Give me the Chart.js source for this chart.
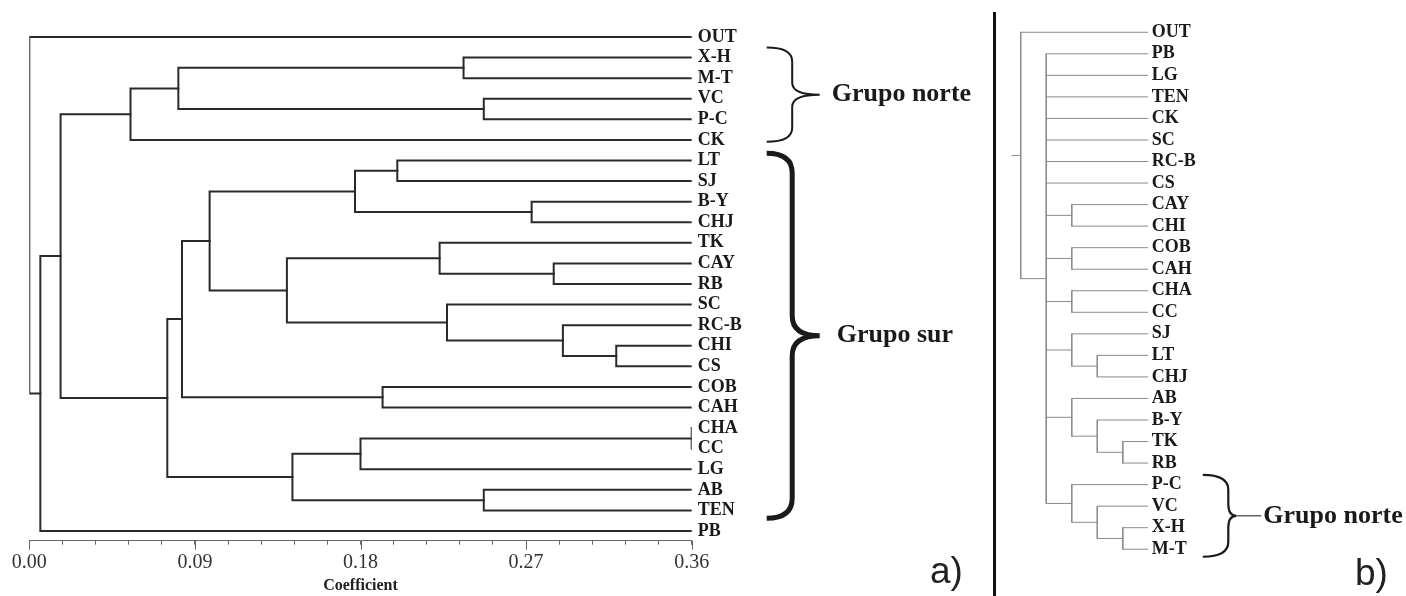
<!DOCTYPE html>
<html>
<head>
<meta charset="utf-8">
<script src="https://cdn.jsdelivr.net/npm/chart.js@4.4.1/dist/chart.umd.min.js"></script>
<style>
  html, body { margin: 0; padding: 0; background: #fff; }
  body { width: 1406px; height: 596px; position: relative; overflow: hidden; }
  #treeA { position: absolute; left: 0; top: 0; }
  #treeB { position: absolute; left: 990px; top: 0; }
  .divider { position: absolute; left: 993px; top: 12px; width: 3px; height: 584px; background: #111; }
  .panel { position: absolute; font: 37px 'Liberation Sans', Arial, sans-serif; line-height: 37px; color: #222; }
</style>
</head>
<body>
<canvas id="treeA" width="990" height="596"></canvas>
<div class="divider"></div>
<canvas id="treeB" width="416" height="596"></canvas>
<div class="panel" style="left:930px; top:552px">a)</div>
<div class="panel" style="left:1355px; top:554px">b)</div>
<script>
// ---- a) dendrogram, leaves from top to bottom
const leavesA = ['OUT', 'X-H', 'M-T', 'VC', 'P-C', 'CK', 'LT', 'SJ', 'B-Y', 'CHJ', 'TK', 'CAY', 'RB',
                 'SC', 'RC-B', 'CHI', 'CS', 'COB', 'CAH', 'CHA', 'CC', 'LG', 'AB', 'TEN', 'PB'];
// joins: [child, child, coefficient]; 'm3' = the 4th join in this list
const mergesA = [
  ['X-H', 'M-T', 0.236],   // m0
  ['VC', 'P-C', 0.247],    // m1
  ['m0', 'm1', 0.081],     // m2
  ['m2', 'CK', 0.055],     // m3
  ['LT', 'SJ', 0.200],     // m4
  ['B-Y', 'CHJ', 0.273],   // m5
  ['m4', 'm5', 0.177],     // m6
  ['CAY', 'RB', 0.285],    // m7
  ['TK', 'm7', 0.223],     // m8
  ['CHI', 'CS', 0.319],    // m9
  ['RC-B', 'm9', 0.290],   // m10
  ['SC', 'm10', 0.227],    // m11
  ['m8', 'm11', 0.140],    // m12
  ['m6', 'm12', 0.098],    // m13
  ['COB', 'CAH', 0.192],   // m14
  ['m13', 'm14', 0.083],   // m15
  ['CHA', 'CC', 0.360],    // m16
  ['m16', 'LG', 0.180],    // m17
  ['AB', 'TEN', 0.247],    // m18
  ['m17', 'm18', 0.143],   // m19
  ['m15', 'm19', 0.075],   // m20
  ['m3', 'm20', 0.017],    // m21
  ['m21', 'PB', 0.006],    // m22
  ['OUT', 'm22', 0.000]    // m23
];
const tipA = 0.36;
const xLabelsA = [0, 0.09, 0.18, 0.27, 0.36];
const groupsA = [['Grupo norte', 'X-H', 'CK'], ['Grupo sur', 'LT', 'TEN']];

// ---- b) consensus tree as nested clades
const treeB = ['OUT', ['PB', 'LG', 'TEN', 'CK', 'SC', 'RC-B', 'CS', ['CAY', 'CHI'], ['COB', 'CAH'],
               ['CHA', 'CC'], ['SJ', ['LT', 'CHJ']], ['AB', ['B-Y', ['TK', 'RB']]],
               ['P-C', ['VC', ['X-H', 'M-T']]]]];
const leavesB = treeB.flat(Infinity);
const groupsB = [['Grupo norte', 'P-C', 'M-T']];

const SERIF = '"Liberation Serif", "Times New Roman", serif';

function segmentsA() {
  const pos = {};
  leavesA.forEach((n, i) => { pos[n] = { x: tipA, y: i }; });
  const segs = [];
  mergesA.forEach(([a, b, h], i) => {
    const p = pos[a], q = pos[b];
    segs.push([{ x: p.x, y: p.y }, { x: h, y: p.y }, { x: h, y: q.y }, { x: q.x, y: q.y }]);
    pos['m' + i] = { x: h, y: (p.y + q.y) / 2 };
  });
  return segs;
}

function depthOf(node) {
  return Array.isArray(node) ? 1 + Math.max(...node.map(depthOf)) : 0;
}
const tipB = depthOf(treeB);

function segmentsB() {
  const segs = [];
  let row = 0;
  function walk(node, depth) {
    if (!Array.isArray(node)) return { x: tipB, y: row++ };
    const kids = node.map(k => walk(k, depth + 1));
    const first = kids[0].y, last = kids[kids.length - 1].y;
    segs.push([{ x: depth, y: first }, { x: depth, y: last }]);
    kids.forEach(k => segs.push([{ x: depth, y: k.y }, { x: k.x, y: k.y }]));
    return { x: depth, y: (first + last) / 2 };
  }
  const root = walk(treeB, 0);
  segs.push([{ x: -0.35, y: root.y }, { x: 0, y: root.y }]);
  return segs;
}

function toDatasets(segs, color, width) {
  return segs.map(s => ({
    data: s, showLine: true, pointRadius: 0, borderColor: color,
    borderWidth: width, borderCapStyle: 'square', borderJoinStyle: 'miter', fill: false
  }));
}

function brace(ctx, x0, xm, xt, yTop, yBot, rEnd, rMid) {
  const yMid = (yTop + yBot) / 2;
  ctx.beginPath();
  ctx.moveTo(x0, yTop);
  ctx.quadraticCurveTo(xm, yTop, xm, yTop + rEnd);
  ctx.lineTo(xm, yMid - rMid);
  ctx.quadraticCurveTo(xm, yMid, xt, yMid);
  ctx.quadraticCurveTo(xm, yMid, xm, yMid + rMid);
  ctx.lineTo(xm, yBot - rEnd);
  ctx.quadraticCurveTo(xm, yBot, x0, yBot);
  ctx.stroke();
  return yMid;
}

// brace look per group (offsets from the leaf tips, in px / rows)
const braceStyleA = [
  { padTop: 0.49, padBot: 0.09, lw: 2, rEnd: 14, rMid: 12, gap: 12 },
  { padTop: 0.35, padBot: 0.38, lw: 5, rEnd: 20, rMid: 20, gap: 17 }
];

const decorA = {
  id: 'decorA',
  afterDraw(chart) {
    const { ctx, chartArea, scales: { x, y } } = chart;
    ctx.save();
    ctx.strokeStyle = '#666';
    ctx.lineWidth = 1;
    xLabelsA.forEach(v => {
      const px = Math.round(x.getPixelForValue(v)) + 0.5;
      ctx.beginPath();
      ctx.moveTo(px, chartArea.bottom);
      ctx.lineTo(px, chartArea.bottom + 9);
      ctx.stroke();
    });
    ctx.fillStyle = '#222';
    ctx.font = 'bold 16px ' + SERIF;
    ctx.textAlign = 'center';
    ctx.textBaseline = 'middle';
    ctx.fillText('Coefficient', (chartArea.left + chartArea.right) / 2, chartArea.bottom + 45);

    const tip = x.getPixelForValue(tipA);
    groupsA.forEach(([label, from, to], i) => {
      const st = braceStyleA[i];
      ctx.strokeStyle = '#1a1a1a';
      ctx.lineWidth = st.lw;
      const yTop = y.getPixelForValue(leavesA.indexOf(from) - st.padTop);
      const yBot = y.getPixelForValue(leavesA.indexOf(to) + st.padBot);
      const yMid = brace(ctx, tip + 75, tip + 100.5, tip + 128, yTop, yBot, st.rEnd, st.rMid);
      ctx.fillStyle = '#1a1a1a';
      ctx.font = 'bold 26px ' + SERIF;
      ctx.textAlign = 'left';
      ctx.fillText(label, tip + 128 + st.gap, yMid);
    });
    ctx.restore();
  }
};

const decorB = {
  id: 'decorB',
  afterDraw(chart) {
    const { ctx, scales: { x, y } } = chart;
    const tip = x.getPixelForValue(tipB);
    ctx.save();
    groupsB.forEach(([label, from, to]) => {
      ctx.strokeStyle = '#1a1a1a';
      ctx.lineWidth = 2.2;
      const yTop = y.getPixelForValue(leavesB.indexOf(from) - 0.45);
      const yBot = y.getPixelForValue(leavesB.indexOf(to) + 0.35);
      const yMid = brace(ctx, tip + 54.5, tip + 80, tip + 88, yTop, yBot, 15, 12);
      ctx.lineWidth = 1;
      ctx.beginPath();
      ctx.moveTo(tip + 88, yMid);
      ctx.lineTo(tip + 113, yMid);
      ctx.stroke();
      ctx.fillStyle = '#1a1a1a';
      ctx.font = 'bold 26px ' + SERIF;
      ctx.textAlign = 'left';
      ctx.textBaseline = 'middle';
      ctx.fillText(label, tip + 115, yMid);
    });
    ctx.restore();
  }
};

const common = {
  responsive: false,
  animation: false,
  events: [],
  plugins: { legend: { display: false }, tooltip: { enabled: false } }
};

function leafAxis(leaves, min, max, width, pad) {
  return {
    type: 'linear', position: 'right', reverse: true, min: min, max: max,
    afterBuildTicks: s => { s.ticks = leaves.map((_, i) => ({ value: i })); },
    afterFit: s => { s.width = width; },
    grid: { display: false, drawTicks: false },
    border: { display: false },
    ticks: {
      autoSkip: false, padding: pad, color: '#1a1a1a',
      font: { family: SERIF, size: 18, weight: 'bold' },
      callback: v => leaves[v]
    }
  };
}

new Chart(document.getElementById('treeA'), {
  type: 'scatter',
  data: { datasets: toDatasets(segmentsA(), '#2a2a2a', 2) },
  plugins: [decorA],
  options: Object.assign({}, common, {
    layout: { padding: { left: 29.3, top: 26.7, right: 0, bottom: 0 } },
    scales: {
      x: {
        type: 'linear', position: 'bottom', min: 0, max: tipA,
        afterFit: s => { s.height = 55.3; },
        grid: { drawOnChartArea: false, drawTicks: true, tickLength: 4, color: '#666' },
        border: { display: true, color: '#666', width: 1 },
        ticks: {
          stepSize: 0.018, autoSkip: false, maxRotation: 0, padding: 6, color: '#333',
          font: { family: SERIF, size: 20 },
          callback: (v, i) => (i % 5 === 0 ? v.toFixed(2) : '')
        }
      },
      y: leafAxis(leavesA, -0.5, 24.47, 298.3, 6)
    }
  })
});

new Chart(document.getElementById('treeB'), {
  type: 'scatter',
  data: { datasets: toDatasets(segmentsB(), '#8c8c8c', 1) },
  plugins: [decorB],
  options: Object.assign({}, common, {
    layout: { padding: { left: 5.2, top: 21.5, right: 0, bottom: 36 } },
    scales: {
      x: { type: 'linear', display: false, min: -1, max: tipB },
      y: leafAxis(leavesB, -0.5, 24.5, 257.7, 3.5)
    }
  })
});
</script>
</body>
</html>
